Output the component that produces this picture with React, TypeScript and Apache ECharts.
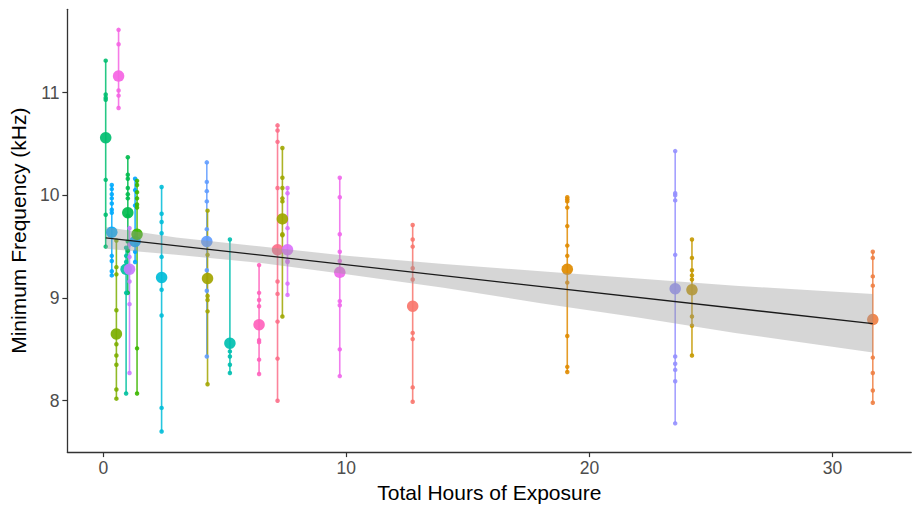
import React, { useEffect, useRef } from "react";
import * as echarts from "echarts";

// Hours of exposure for each recording group
const groupHours = [
  0.1, 0.63, 0.35, 0.54, 1.01, 0.94, 1.08, 1.31, 1.39, 2.4, 4.26, 4.29, 5.21,
  6.41, 7.17, 7.37, 7.58, 9.73, 12.73, 19.09, 23.53, 24.22, 31.66,
];

// Mean minimum frequency (kHz) for each group
const groupMeans = [
  10.56, 11.16, 9.64, 8.65, 9.83, 9.28, 9.28, 9.55, 9.62, 9.2, 9.55, 9.19, 8.56,
  8.74, 9.47, 9.77, 9.47, 9.25, 8.92, 9.28, 9.09, 9.08, 8.79,
];

// Individual minimum frequency values (kHz) per group
const groupValues = [
  [11.31, 10.98, 10.95, 10.93, 10.15, 9.81, 9.5],
  [11.61, 11.47, 11.02, 10.97, 10.85],
  [10.1, 10.06, 10.01, 9.97, 9.92, 9.86, 9.83, 9.41, 9.36, 9.26, 9.22],
  [9.56, 9.3, 9.23, 8.88, 8.55, 8.44, 8.35, 8.11, 8.02],
  [10.37, 10.2, 10.16, 10.07, 10.01, 9.97, 9.8, 9.55, 9.46, 9.05],
  [9.49, 9.41, 9.35, 9.05, 8.07],
  [9.68, 9.52, 9.4, 9.16, 8.94, 8.27],
  [10.16, 10.05, 9.9, 9.45, 9.35],
  [10.14, 10.1, 10.03, 9.97, 9.91, 9.88, 8.51, 8.07],
  [10.08, 9.82, 9.74, 9.63, 9.4, 9.08, 8.83, 7.93, 7.7],
  [10.32, 10.13, 10.04, 9.94, 9.67, 9.27, 9.07, 8.43],
  [9.85, 9.42, 9.02, 8.98, 8.87, 8.16],
  [9.57, 8.48, 8.43, 8.35, 8.27],
  [9.32, 9.05, 8.98, 8.92, 8.59, 8.57, 8.4, 8.26],
  [10.68, 10.63, 10.52, 10.07, 9.16, 9.04, 8.77, 8.41, 8.0],
  [10.46, 10.17, 10.07, 9.97, 9.94, 9.62, 9.61, 8.82],
  [10.07, 10.02, 9.68, 9.36, 9.35, 9.14, 9.03],
  [10.17, 9.98, 9.62, 9.45, 9.36, 8.97, 8.93, 8.5, 8.24],
  [9.71, 9.57, 9.5, 9.29, 9.18, 8.66, 8.6, 8.13, 7.99],
  [9.98, 9.96, 9.94, 9.88, 9.7, 9.51, 9.41, 9.15, 8.63, 8.33, 8.28],
  [10.43, 10.02, 10.0, 9.95, 9.42, 8.43, 8.36, 8.3, 8.19, 7.78],
  [9.57, 9.39, 9.27, 9.22, 9.18, 8.82, 8.73, 8.44],
  [9.45, 9.39, 9.21, 9.12, 8.42, 8.27, 8.1, 7.98],
];

const groupColors = [
  "#00BE70", "#F564E3", "#00ABFD", "#7CAE00", "#00BB4E", "#00C19F", "#C77CFF",
  "#00A5FF", "#3DB700", "#00BCD8", "#619CFF", "#A3A500", "#00BFB0", "#FF62BC",
  "#FC6F8A", "#9FA600", "#DB72FB", "#EF67EB", "#F8766D", "#E08B00", "#9590FF",
  "#C59900", "#EE8044",
];

// Linear fit
const fitHours = [0.1, 31.66];
const fitValues = [9.586, 8.75];

// Confidence band of the fit
const bandHours = [0.1, 3, 6.5, 10, 14, 18, 22, 26, 31.66];
const bandLower = [9.48, 9.42, 9.34, 9.23, 9.1, 8.95, 8.81, 8.66, 8.47];
const bandUpper = [9.69, 9.59, 9.5, 9.41, 9.33, 9.26, 9.19, 9.12, 9.04];

const xTicks = [0, 10, 20, 30];
const yTicks = [8, 9, 10, 11];

export default function App() {
  const ref = useRef<HTMLDivElement>(null);

  useEffect(() => {
    if (!ref.current) return;
    const chart = echarts.init(ref.current, null, { renderer: "svg" });

    const lineSeries = groupHours.map((h, i) => ({
      type: "line",
      data: [...groupValues[i]].sort((a, b) => b - a).map((v) => [h, v]),
      symbol: "circle",
      symbolSize: 4.5,
      showSymbol: true,
      lineStyle: { color: groupColors[i], width: 1.6, opacity: 0.85 },
      itemStyle: { color: groupColors[i], opacity: 0.9 },
      silent: true,
      emphasis: { disabled: true },
      z: 2,
    }));

    const meanSeries = {
      type: "scatter",
      data: groupHours.map((h, i) => ({
        value: [h, groupMeans[i]],
        itemStyle: { color: groupColors[i], opacity: 0.92 },
      })),
      symbol: "circle",
      symbolSize: 11.5,
      silent: true,
      emphasis: { disabled: true },
      z: 2,
    };

    const bandSeries = {
      type: "custom",
      coordinateSystem: "cartesian2d",
      data: bandHours.map((h, i) => [h, bandLower[i], bandUpper[i]]),
      encode: { x: 0, y: [1, 2] },
      silent: true,
      z: 3,
      renderItem: (params: any, api: any) => {
        if (params.dataIndex !== 0) return null;
        const upper = bandHours.map((h, i) => api.coord([h, bandUpper[i]]));
        const lower = bandHours
          .map((h, i) => api.coord([h, bandLower[i]]))
          .reverse();
        return {
          type: "polygon",
          shape: { points: upper.concat(lower) },
          style: { fill: "rgba(153,153,153,0.4)", stroke: "none" },
        };
      },
    };

    const fitSeries = {
      type: "line",
      data: fitHours.map((h, i) => [h, fitValues[i]]),
      showSymbol: false,
      symbol: "none",
      lineStyle: { color: "#1a1a1a", width: 1.3 },
      silent: true,
      emphasis: { disabled: true },
      z: 4,
    };

    const axisLine = {
      show: true,
      onZero: false,
      lineStyle: { color: "#333333", width: 1.3 },
    };
    const tickStyle = { color: "#333333", width: 1.2 };
    const nameTextStyle = {
      color: "#000000",
      fontSize: 21,
      fontFamily: "Liberation Sans",
    };

    chart.setOption({
      animation: false,
      backgroundColor: "#ffffff",
      grid: { left: 62.4, right: 2.8, top: 9.3, bottom: 51.7, containLabel: false },
      xAxis: {
        type: "value",
        min: -1.477,
        max: 33.24,
        name: "Total Hours of Exposure",
        nameLocation: "middle",
        nameGap: 25,
        nameTextStyle,
        axisLine,
        splitLine: { show: false },
        axisTick: { show: true, length: 5, lineStyle: tickStyle, customValues: xTicks },
        axisLabel: {
          customValues: xTicks,
          color: "#4D4D4D",
          fontSize: 17.5,
          fontFamily: "Liberation Sans",
          margin: 7,
        },
      },
      yAxis: {
        type: "value",
        min: 7.5,
        max: 11.81,
        name: "Minimum Frequency (kHz)",
        nameLocation: "middle",
        nameRotate: 90,
        nameGap: 24,
        nameTextStyle,
        axisLine,
        splitLine: { show: false },
        axisTick: { show: true, length: 5, lineStyle: tickStyle, customValues: yTicks },
        axisLabel: {
          customValues: yTicks,
          color: "#4D4D4D",
          fontSize: 17.5,
          fontFamily: "Liberation Sans",
          margin: 8,
        },
      },
      series: [...lineSeries, meanSeries, bandSeries, fitSeries],
    });

    return () => chart.dispose();
  }, []);

  return (
    <div
      ref={ref}
      style={{ position: "absolute", left: 0, top: 0, width: 914, height: 508 }}
    />
  );
}
